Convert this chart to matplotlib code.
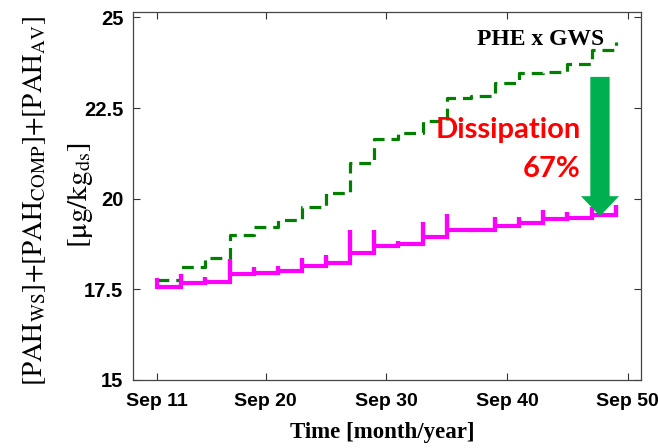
import matplotlib
matplotlib.use("Agg")
import matplotlib.pyplot as plt
from matplotlib.patches import FancyArrow

plt.rcParams['mathtext.fontset'] = 'stix'
plt.rcParams['lines.scale_dashes'] = False

# ---- data ----
years = [2011, 2013, 2015, 2017, 2019, 2021, 2023, 2025, 2027, 2029,
         2031, 2033, 2035, 2037, 2039, 2041, 2043, 2045, 2047, 2049]
gws = [17.76, 18.11, 18.37, 19.00, 19.23, 19.41, 19.78, 20.15, 20.98, 21.64,
       21.81, 22.13, 22.77, 22.83, 23.18, 23.46, 23.50, 23.71, 24.10, 24.32]
comp_peak = [17.76, 17.92, 17.84, 18.34, 18.12, 18.14, 18.37, 18.45, 19.14, 19.14,
             18.83, 19.35, 19.57, 19.19, 19.49, 19.49, 19.69, 19.62, 19.78, 19.83]
comp_level = [17.56, 17.67, 17.71, 17.92, 17.96, 18.02, 18.15, 18.22, 18.51, 18.70,
              18.75, 18.95, 19.14, 19.15, 19.25, 19.32, 19.43, 19.48, 19.55, 19.61]

xtick_vals = [2011, 2020, 2030, 2040, 2050]
xtick_labels = ['Sep 11', 'Sep 20', 'Sep 30', 'Sep 40', 'Sep 50']
ytick_vals = [15, 17.5, 20, 22.5, 25]
ytick_labels = ['15', '17.5', '20', '22.5', '25']

# build spike series (peak then level at each step)
cx, cy = [], []
for yr, pk, lv in zip(years, comp_peak, comp_level):
    cx += [yr, yr]
    cy += [pk, lv]

fig = plt.figure(figsize=(6.58, 4.48), dpi=100)
ax = fig.add_axes([133/658, 1-380/448, (641-133)/658, (380-12)/448])

ax.plot(years, gws, drawstyle='steps-post', color='#007F00', lw=2.3,
        dashes=(8.5, 5), zorder=2)
ax.plot(cx, cy, drawstyle='steps-post', color='#FF00FF', lw=3.0,
        solid_joinstyle='miter', zorder=3)

ax.set_xlim(2009.0, 2051.1)
ax.set_ylim(15, 25.15)
ax.set_xticks(xtick_vals)
ax.set_xticklabels(xtick_labels, fontfamily='Liberation Sans', fontweight='bold', fontsize=14)
ax.set_yticks(ytick_vals)
ax.set_yticklabels(ytick_labels, fontfamily='Liberation Sans', fontweight='bold', fontsize=14.5)
ax.tick_params(direction='in', length=5, width=0.8, top=True, right=True, colors='#333333',
               labelcolor='black')
ax.tick_params(axis='x', pad=9)
ax.tick_params(axis='y', pad=7)
for s in ax.spines.values():
    s.set_color('#444444')
    s.set_linewidth(0.9)

# arrow
arrow = FancyArrow(2047.7, 23.36, 0, -(23.36 - 19.52), width=1.6, head_width=3.15,
                   head_length=0.55, length_includes_head=True, color='#00B050',
                   linewidth=0, zorder=5)
ax.add_patch(arrow)

ax.text(2042.8, 24.24, 'PHE x GWS', fontfamily='Liberation Serif', fontweight='bold',
        fontsize=17, ha='center', va='baseline', color='black', zorder=6)
ax.text(2046.1, 21.68, 'Dissipation', fontfamily='Lato', fontweight='bold', fontsize=21,
        ha='right', va='baseline', color='#FF0000', zorder=6)
ax.text(2046.1, 20.61, '67%', fontfamily='Lato', fontweight='bold', fontsize=21,
        ha='right', va='baseline', color='#FF0000', zorder=6)

fig.text(382/658, 1-432/448, 'Time [month/year]', fontfamily='Liberation Serif',
         fontweight='bold', fontsize=16.5, ha='center', va='center')
fig.text(35/658, 1-201/448, r'$\mathrm{[PAH_{WS}]{+}[PAH_{COMP}]{+}[PAH_{AV}]}$',
         fontsize=19.6, rotation=90, ha='center', va='center')
fig.text(80/658, 1-195/448, r'$\mathrm{[\mu g/kg_{ds}]}$',
         fontsize=21, rotation=90, ha='center', va='center')

fig.savefig('out.png', dpi=100)
